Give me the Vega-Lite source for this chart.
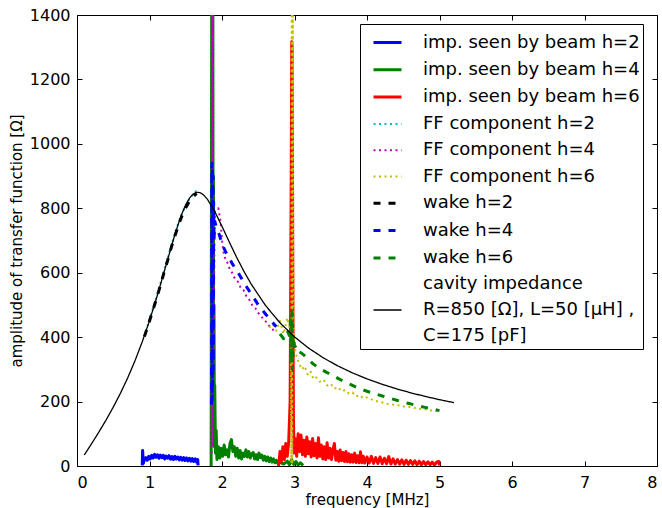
{
 "$schema": "https://vega.github.io/schema/vega-lite/v6.json",
 "width": 580, "height": 451,
 "autosize": {"type": "none"},
 "padding": {"left": 77, "top": 15, "right": 5, "bottom": 42},
 "background": "white",
 "config": {
  "font": "DejaVu Sans",
  "view": {"stroke": "black", "strokeWidth": 1},
  "style": {"guide-label": {"lineHeight": 26.3}},
  "axis": {"grid": false, "domain": false, "tickColor": "black", "tickSize": -5, "tickWidth": 1, "labelColor": "black", "titleColor": "black", "labelFontSize": 16, "titleFontSize": 15, "titleFontWeight": "normal", "labelFont": "DejaVu Sans", "titleFont": "DejaVu Sans"}
 },
 "datasets": {
  "d": [
   {"s":"i2","f":0.90,"z":2},{"s":"i2","f":0.905,"z":48},{"s":"i2","f":0.915,"z":8},{"s":"i2","f":0.93,"z":20},{"s":"i2","f":0.95,"z":26},{"s":"i2","f":0.97,"z":18},{"s":"i2","f":0.99,"z":30},{"s":"i2","f":1.01,"z":22},{"s":"i2","f":1.03,"z":33},{"s":"i2","f":1.05,"z":25},{"s":"i2","f":1.07,"z":36},{"s":"i2","f":1.09,"z":27},{"s":"i2","f":1.11,"z":35},{"s":"i2","f":1.13,"z":24},{"s":"i2","f":1.15,"z":34},{"s":"i2","f":1.17,"z":26},{"s":"i2","f":1.19,"z":33},{"s":"i2","f":1.21,"z":22},{"s":"i2","f":1.23,"z":31},{"s":"i2","f":1.25,"z":24},{"s":"i2","f":1.27,"z":32},{"s":"i2","f":1.29,"z":21},{"s":"i2","f":1.31,"z":29},{"s":"i2","f":1.33,"z":20},{"s":"i2","f":1.35,"z":30},{"s":"i2","f":1.37,"z":22},{"s":"i2","f":1.39,"z":28},{"s":"i2","f":1.41,"z":19},{"s":"i2","f":1.43,"z":27},{"s":"i2","f":1.45,"z":18},{"s":"i2","f":1.47,"z":26},{"s":"i2","f":1.49,"z":17},{"s":"i2","f":1.51,"z":25},{"s":"i2","f":1.53,"z":16},{"s":"i2","f":1.55,"z":24},{"s":"i2","f":1.57,"z":15},{"s":"i2","f":1.59,"z":23},{"s":"i2","f":1.61,"z":14},{"s":"i2","f":1.63,"z":22},{"s":"i2","f":1.65,"z":12},{"s":"i2","f":1.665,"z":20},{"s":"i2","f":1.67,"z":2},

   {"s":"i4","f":1.85,"z":0},{"s":"i4","f":1.858,"z":1500},{"s":"i4","f":1.862,"z":300},{"s":"i4","f":1.866,"z":1500},{"s":"i4","f":1.87,"z":400},{"s":"i4","f":1.874,"z":1500},{"s":"i4","f":1.878,"z":200},{"s":"i4","f":1.882,"z":900},{"s":"i4","f":1.886,"z":120},{"s":"i4","f":1.89,"z":500},{"s":"i4","f":1.895,"z":60},{"s":"i4","f":1.90,"z":250},{"s":"i4","f":1.91,"z":40},{"s":"i4","f":1.92,"z":110},{"s":"i4","f":1.93,"z":20},{"s":"i4","f":1.95,"z":60},{"s":"i4","f":1.97,"z":25},{"s":"i4","f":1.99,"z":55},{"s":"i4","f":2.01,"z":30},{"s":"i4","f":2.03,"z":65},{"s":"i4","f":2.05,"z":35},{"s":"i4","f":2.07,"z":50},{"s":"i4","f":2.09,"z":28},{"s":"i4","f":2.11,"z":70},{"s":"i4","f":2.13,"z":82},{"s":"i4","f":2.15,"z":45},{"s":"i4","f":2.17,"z":60},{"s":"i4","f":2.19,"z":30},{"s":"i4","f":2.21,"z":55},{"s":"i4","f":2.23,"z":25},{"s":"i4","f":2.25,"z":48},{"s":"i4","f":2.27,"z":22},{"s":"i4","f":2.29,"z":40},{"s":"i4","f":2.31,"z":30},{"s":"i4","f":2.33,"z":50},{"s":"i4","f":2.35,"z":28},{"s":"i4","f":2.37,"z":45},{"s":"i4","f":2.39,"z":25},{"s":"i4","f":2.41,"z":38},{"s":"i4","f":2.43,"z":42},{"s":"i4","f":2.45,"z":22},{"s":"i4","f":2.47,"z":35},{"s":"i4","f":2.49,"z":20},{"s":"i4","f":2.51,"z":40},{"s":"i4","f":2.53,"z":26},{"s":"i4","f":2.55,"z":34},{"s":"i4","f":2.57,"z":18},{"s":"i4","f":2.59,"z":30},{"s":"i4","f":2.61,"z":16},{"s":"i4","f":2.63,"z":28},{"s":"i4","f":2.65,"z":14},{"s":"i4","f":2.67,"z":25},{"s":"i4","f":2.69,"z":12},{"s":"i4","f":2.71,"z":22},{"s":"i4","f":2.73,"z":10},{"s":"i4","f":2.75,"z":18},{"s":"i4","f":2.77,"z":8},{"s":"i4","f":2.80,"z":12},{"s":"i4","f":2.85,"z":6},{"s":"i4","f":2.90,"z":15},{"s":"i4","f":2.93,"z":4},{"s":"i4","f":2.96,"z":20},{"s":"i4","f":2.99,"z":5},{"s":"i4","f":3.02,"z":14},{"s":"i4","f":3.05,"z":3},{"s":"i4","f":3.08,"z":10},{"s":"i4","f":3.12,"z":2},

   {"s":"i6","f":2.78,"z":0},{"s":"i6","f":2.80,"z":45},{"s":"i6","f":2.82,"z":15},{"s":"i6","f":2.84,"z":60},{"s":"i6","f":2.86,"z":20},{"s":"i6","f":2.88,"z":70},{"s":"i6","f":2.90,"z":30},{"s":"i6","f":2.92,"z":75},{"s":"i6","f":2.94,"z":200},{"s":"i6","f":2.955,"z":900},{"s":"i6","f":2.962,"z":1317},{"s":"i6","f":2.968,"z":1300},{"s":"i6","f":2.975,"z":700},{"s":"i6","f":2.985,"z":150},{"s":"i6","f":2.995,"z":40},{"s":"i6","f":3.01,"z":85},{"s":"i6","f":3.03,"z":30},{"s":"i6","f":3.05,"z":100},{"s":"i6","f":3.07,"z":45},{"s":"i6","f":3.09,"z":96},{"s":"i6","f":3.11,"z":35},{"s":"i6","f":3.13,"z":80},{"s":"i6","f":3.15,"z":30},{"s":"i6","f":3.17,"z":90},{"s":"i6","f":3.19,"z":38},{"s":"i6","f":3.21,"z":75},{"s":"i6","f":3.23,"z":28},{"s":"i6","f":3.25,"z":85},{"s":"i6","f":3.27,"z":32},{"s":"i6","f":3.29,"z":70},{"s":"i6","f":3.31,"z":25},{"s":"i6","f":3.33,"z":88},{"s":"i6","f":3.35,"z":30},{"s":"i6","f":3.37,"z":65},{"s":"i6","f":3.39,"z":22},{"s":"i6","f":3.41,"z":60},{"s":"i6","f":3.43,"z":20},{"s":"i6","f":3.45,"z":72},{"s":"i6","f":3.47,"z":25},{"s":"i6","f":3.49,"z":55},{"s":"i6","f":3.51,"z":20},{"s":"i6","f":3.53,"z":50},{"s":"i6","f":3.55,"z":70},{"s":"i6","f":3.57,"z":18},{"s":"i6","f":3.59,"z":45},{"s":"i6","f":3.61,"z":15},{"s":"i6","f":3.63,"z":50},{"s":"i6","f":3.65,"z":16},{"s":"i6","f":3.67,"z":42},{"s":"i6","f":3.69,"z":14},{"s":"i6","f":3.71,"z":45},{"s":"i6","f":3.73,"z":13},{"s":"i6","f":3.75,"z":38},{"s":"i6","f":3.77,"z":12},{"s":"i6","f":3.79,"z":35},{"s":"i6","f":3.81,"z":12},{"s":"i6","f":3.83,"z":40},{"s":"i6","f":3.85,"z":11},{"s":"i6","f":3.87,"z":32},{"s":"i6","f":3.89,"z":10},{"s":"i6","f":3.91,"z":44},{"s":"i6","f":3.93,"z":10},{"s":"i6","f":3.95,"z":30},{"s":"i6","f":3.97,"z":9},{"s":"i6","f":4.0,"z":28},{"s":"i6","f":4.03,"z":9},{"s":"i6","f":4.06,"z":30},{"s":"i6","f":4.09,"z":8},{"s":"i6","f":4.12,"z":26},{"s":"i6","f":4.15,"z":8},{"s":"i6","f":4.18,"z":28},{"s":"i6","f":4.21,"z":7},{"s":"i6","f":4.24,"z":24},{"s":"i6","f":4.27,"z":7},{"s":"i6","f":4.30,"z":29},{"s":"i6","f":4.33,"z":6},{"s":"i6","f":4.36,"z":22},{"s":"i6","f":4.39,"z":6},{"s":"i6","f":4.42,"z":20},{"s":"i6","f":4.45,"z":6},{"s":"i6","f":4.48,"z":19},{"s":"i6","f":4.51,"z":5},{"s":"i6","f":4.54,"z":18},{"s":"i6","f":4.57,"z":5},{"s":"i6","f":4.60,"z":17},{"s":"i6","f":4.63,"z":5},{"s":"i6","f":4.66,"z":16},{"s":"i6","f":4.69,"z":4},{"s":"i6","f":4.72,"z":15},{"s":"i6","f":4.75,"z":4},{"s":"i6","f":4.78,"z":14},{"s":"i6","f":4.81,"z":4},{"s":"i6","f":4.84,"z":13},{"s":"i6","f":4.87,"z":4},{"s":"i6","f":4.90,"z":12},{"s":"i6","f":4.93,"z":3},{"s":"i6","f":4.96,"z":12},{"s":"i6","f":4.99,"z":14},{"s":"i6","f":5.0,"z":2},

   {"s":"f2","f":0.95,"z":418},{"s":"f2","f":1.0,"z":455},{"s":"f2","f":1.05,"z":491},{"s":"f2","f":1.1,"z":528},{"s":"f2","f":1.15,"z":566},{"s":"f2","f":1.2,"z":606},{"s":"f2","f":1.25,"z":644},{"s":"f2","f":1.3,"z":685},{"s":"f2","f":1.35,"z":721},{"s":"f2","f":1.4,"z":755},{"s":"f2","f":1.45,"z":785},{"s":"f2","f":1.5,"z":809},{"s":"f2","f":1.55,"z":828},{"s":"f2","f":1.6,"z":843},{"s":"f2","f":1.65,"z":856},

   {"s":"f4","f":1.855,"z":40},{"s":"f4","f":1.862,"z":1500},{"s":"f4","f":1.868,"z":60},{"s":"f4","f":1.874,"z":1500},{"s":"f4","f":1.88,"z":300},{"s":"f4","f":1.9,"z":790},{"s":"f4","f":1.95,"z":800},{"s":"f4","f":1.98,"z":760},{"s":"f4","f":2.0,"z":700},{"s":"f4","f":2.03,"z":650},{"s":"f4","f":2.06,"z":640},{"s":"f4","f":2.1,"z":615},{"s":"f4","f":2.14,"z":600},{"s":"f4","f":2.18,"z":580},{"s":"f4","f":2.22,"z":572},{"s":"f4","f":2.26,"z":552},{"s":"f4","f":2.3,"z":545},{"s":"f4","f":2.34,"z":525},{"s":"f4","f":2.38,"z":515},{"s":"f4","f":2.42,"z":498},{"s":"f4","f":2.46,"z":490},{"s":"f4","f":2.5,"z":475},{"s":"f4","f":2.54,"z":466},{"s":"f4","f":2.58,"z":452},{"s":"f4","f":2.62,"z":446},{"s":"f4","f":2.66,"z":432},{"s":"f4","f":2.7,"z":424},{"s":"f4","f":2.74,"z":412},

   {"s":"f6","f":2.65,"z":430},{"s":"f6","f":2.7,"z":440},{"s":"f6","f":2.75,"z":420},{"s":"f6","f":2.8,"z":450},{"s":"f6","f":2.85,"z":410},{"s":"f6","f":2.9,"z":460},{"s":"f6","f":2.93,"z":430},{"s":"f6","f":2.95,"z":380},{"s":"f6","f":2.955,"z":10},{"s":"f6","f":2.962,"z":1500},{"s":"f6","f":2.968,"z":5},{"s":"f6","f":2.975,"z":1500},{"s":"f6","f":2.985,"z":420},{"s":"f6","f":3.0,"z":370},{"s":"f6","f":3.03,"z":340},{"s":"f6","f":3.06,"z":320},{"s":"f6","f":3.1,"z":300},{"s":"f6","f":3.14,"z":310},{"s":"f6","f":3.18,"z":285},{"s":"f6","f":3.22,"z":295},{"s":"f6","f":3.26,"z":270},{"s":"f6","f":3.3,"z":275},{"s":"f6","f":3.35,"z":262},{"s":"f6","f":3.4,"z":268},{"s":"f6","f":3.45,"z":250},{"s":"f6","f":3.5,"z":255},{"s":"f6","f":3.55,"z":240},{"s":"f6","f":3.6,"z":245},{"s":"f6","f":3.65,"z":232},{"s":"f6","f":3.7,"z":236},{"s":"f6","f":3.75,"z":225},{"s":"f6","f":3.8,"z":228},{"s":"f6","f":3.85,"z":216},{"s":"f6","f":3.9,"z":220},{"s":"f6","f":3.95,"z":210},{"s":"f6","f":4.0,"z":213},{"s":"f6","f":4.1,"z":203},{"s":"f6","f":4.2,"z":198},{"s":"f6","f":4.3,"z":192},{"s":"f6","f":4.4,"z":190},{"s":"f6","f":4.5,"z":185},{"s":"f6","f":4.6,"z":183},{"s":"f6","f":4.7,"z":178},{"s":"f6","f":4.8,"z":176},{"s":"f6","f":4.9,"z":172},{"s":"f6","f":5.0,"z":170},

   {"s":"w2","f":0.93,"z":402},{"s":"w2","f":1.0,"z":450},{"s":"w2","f":1.05,"z":486},{"s":"w2","f":1.1,"z":522},{"s":"w2","f":1.15,"z":560},{"s":"w2","f":1.2,"z":600},{"s":"w2","f":1.25,"z":638},{"s":"w2","f":1.3,"z":678},{"s":"w2","f":1.35,"z":714},{"s":"w2","f":1.4,"z":748},{"s":"w2","f":1.45,"z":778},{"s":"w2","f":1.5,"z":802},{"s":"w2","f":1.55,"z":822},{"s":"w2","f":1.6,"z":836},{"s":"w2","f":1.65,"z":846},

   {"s":"w4","f":1.855,"z":190},{"s":"w4","f":1.86,"z":940},{"s":"w4","f":1.864,"z":200},{"s":"w4","f":1.868,"z":930},{"s":"w4","f":1.872,"z":250},{"s":"w4","f":1.876,"z":900},{"s":"w4","f":1.88,"z":300},{"s":"w4","f":1.885,"z":820},{"s":"w4","f":1.89,"z":700},{"s":"w4","f":1.9,"z":760},{"s":"w4","f":1.93,"z":735},{"s":"w4","f":1.96,"z":720},{"s":"w4","f":2.0,"z":690},{"s":"w4","f":2.05,"z":665},{"s":"w4","f":2.1,"z":645},{"s":"w4","f":2.15,"z":625},{"s":"w4","f":2.2,"z":608},{"s":"w4","f":2.25,"z":590},{"s":"w4","f":2.3,"z":570},{"s":"w4","f":2.35,"z":552},{"s":"w4","f":2.4,"z":535},{"s":"w4","f":2.45,"z":518},{"s":"w4","f":2.5,"z":500},{"s":"w4","f":2.55,"z":486},{"s":"w4","f":2.6,"z":472},{"s":"w4","f":2.65,"z":458},{"s":"w4","f":2.7,"z":445},{"s":"w4","f":2.75,"z":432},

   {"s":"w6","f":2.8,"z":410},{"s":"w6","f":2.85,"z":395},{"s":"w6","f":2.9,"z":420},{"s":"w6","f":2.93,"z":405},{"s":"w6","f":2.95,"z":470},{"s":"w6","f":2.96,"z":320},{"s":"w6","f":2.965,"z":479},{"s":"w6","f":2.97,"z":300},{"s":"w6","f":2.975,"z":440},{"s":"w6","f":2.98,"z":340},{"s":"w6","f":2.99,"z":400},{"s":"w6","f":3.0,"z":370},{"s":"w6","f":3.03,"z":375},{"s":"w6","f":3.06,"z":355},{"s":"w6","f":3.1,"z":350},{"s":"w6","f":3.15,"z":340},{"s":"w6","f":3.2,"z":330},{"s":"w6","f":3.25,"z":318},{"s":"w6","f":3.3,"z":310},{"s":"w6","f":3.35,"z":302},{"s":"w6","f":3.4,"z":296},{"s":"w6","f":3.45,"z":290},{"s":"w6","f":3.5,"z":285},{"s":"w6","f":3.6,"z":272},{"s":"w6","f":3.7,"z":260},{"s":"w6","f":3.8,"z":250},{"s":"w6","f":3.9,"z":240},{"s":"w6","f":4.0,"z":232},{"s":"w6","f":4.1,"z":225},{"s":"w6","f":4.2,"z":218},{"s":"w6","f":4.3,"z":211},{"s":"w6","f":4.4,"z":205},{"s":"w6","f":4.5,"z":198},{"s":"w6","f":4.6,"z":193},{"s":"w6","f":4.7,"z":187},{"s":"w6","f":4.8,"z":182},{"s":"w6","f":4.9,"z":177},{"s":"w6","f":5.0,"z":172},

   {"s":"cav","f":0.1,"z":34.1},{"s":"cav","f":0.2,"z":68.8},{"s":"cav","f":0.3,"z":104.7},{"s":"cav","f":0.4,"z":142.4},{"s":"cav","f":0.5,"z":182.6},{"s":"cav","f":0.6,"z":226.2},{"s":"cav","f":0.7,"z":273.9},{"s":"cav","f":0.8,"z":326.8},{"s":"cav","f":0.9,"z":385.6},{"s":"cav","f":1.0,"z":451.2},{"s":"cav","f":1.1,"z":523.4},{"s":"cav","f":1.2,"z":601},{"s":"cav","f":1.3,"z":680},{"s":"cav","f":1.35,"z":718},{"s":"cav","f":1.4,"z":753},{"s":"cav","f":1.45,"z":784.7},{"s":"cav","f":1.5,"z":811},{"s":"cav","f":1.55,"z":831},{"s":"cav","f":1.6,"z":844},{"s":"cav","f":1.65,"z":849.6},{"s":"cav","f":1.7,"z":848.4},{"s":"cav","f":1.75,"z":840.7},{"s":"cav","f":1.8,"z":827.7},{"s":"cav","f":1.9,"z":790},{"s":"cav","f":2.0,"z":743.8},{"s":"cav","f":2.1,"z":695.5},{"s":"cav","f":2.2,"z":648.7},{"s":"cav","f":2.3,"z":605.2},{"s":"cav","f":2.4,"z":565.7},{"s":"cav","f":2.6,"z":498.3},{"s":"cav","f":2.8,"z":444.4},{"s":"cav","f":3.0,"z":400.8},{"s":"cav","f":3.2,"z":365.1},{"s":"cav","f":3.4,"z":335.4},{"s":"cav","f":3.6,"z":310.4},{"s":"cav","f":3.8,"z":289},{"s":"cav","f":4.0,"z":270.5},{"s":"cav","f":4.2,"z":254.3},{"s":"cav","f":4.4,"z":240.1},{"s":"cav","f":4.6,"z":227.4},{"s":"cav","f":4.8,"z":216.1},{"s":"cav","f":5.0,"z":205.9},{"s":"cav","f":5.2,"z":196.7}
  ]
 },
 "layer": [
  {
   "data": {"name": "d"},
   "mark": {"type": "line", "clip": true, "strokeCap": "butt", "strokeJoin": "round"},
   "encoding": {
    "x": {"field": "f", "type": "quantitative", "scale": {"domain": [0, 8], "nice": false, "zero": false},
          "axis": {"values": [0,1,2,3,4,5,6,7,8], "title": "frequency [MHz]", "labelPadding": 13, "titlePadding": 2}},
    "y": {"field": "z", "type": "quantitative", "scale": {"domain": [0, 1400], "nice": false},
          "axis": {"values": [0,200,400,600,800,1000,1200,1400], "format": "d", "title": "amplitude of transfer function [Ω]", "labelPadding": 12, "titlePadding": 5}},
    "color": {"field": "s", "type": "nominal",
      "scale": {"domain": ["i2","i4","i6","f2","f4","f6","w2","w4","w6","cav0","cav"],
                "range": ["#0000ff","#008000","#ff0000","#00bfbf","#bf00bf","#bfbf00","#000000","#0000ff","#008000","rgba(0,0,0,0)","#000000"]},
      "legend": {"title": null, "orient": "none", "legendX": 283, "legendY": 9,
        "symbolType": "stroke", "symbolSize": 784, "symbolOffset": 9, "labelFontSize": 18, "labelOffset": 20, "labelFont": "DejaVu Sans", "labelColor": "black",
        "padding": 3, "rowPadding": 2.3, "fillColor": "white", "strokeColor": "black", "cornerRadius": 0, "labelLimit": 400,
        "labelExpr": "datum.label == 'i2' ? 'imp. seen by beam h=2' : datum.label == 'i4' ? 'imp. seen by beam h=4' : datum.label == 'i6' ? 'imp. seen by beam h=6' : datum.label == 'f2' ? 'FF component h=2' : datum.label == 'f4' ? 'FF component h=4' : datum.label == 'f6' ? 'FF component h=6' : datum.label == 'w2' ? 'wake h=2' : datum.label == 'w4' ? 'wake h=4' : datum.label == 'w6' ? 'wake h=6' : datum.label == 'cav0' ? 'cavity impedance' : ['R=850 [Ω], L=50 [μH] ,', 'C=175 [pF]']"}},
    "strokeDash": {"field": "s", "type": "nominal",
      "scale": {"domain": ["i2","i4","i6","f2","f4","f6","w2","w4","w6","cav0","cav"],
                "range": [[1,0],[1,0],[1,0],[2,3.5],[2,3.5],[2,3.5],[7,8],[7,8],[7,8],[1,0],[1,0]]}},
    "strokeWidth": {"field": "s", "type": "nominal",
      "scale": {"type": "ordinal", "domain": ["i2","i4","i6","f2","f4","f6","w2","w4","w6","cav0","cav"],
                "range": [3,3,3,2,2,2,3,3,3,0,1.3]}}
   }
  },
  {
   "data": {"values": [{"f": 0, "z": 0}]},
   "mark": {"type": "point", "opacity": 0},
   "encoding": {
    "x": {"field": "f", "type": "quantitative", "axis": {"orient": "top", "values": [0,1,2,3,4,5,6,7,8], "labels": false, "title": null}},
    "y": {"field": "z", "type": "quantitative", "axis": {"orient": "right", "values": [0,200,400,600,800,1000,1200,1400], "labels": false, "title": null}}
   }
  }
 ],
 "resolve": {"axis": {"x": "independent", "y": "independent"}}
}
